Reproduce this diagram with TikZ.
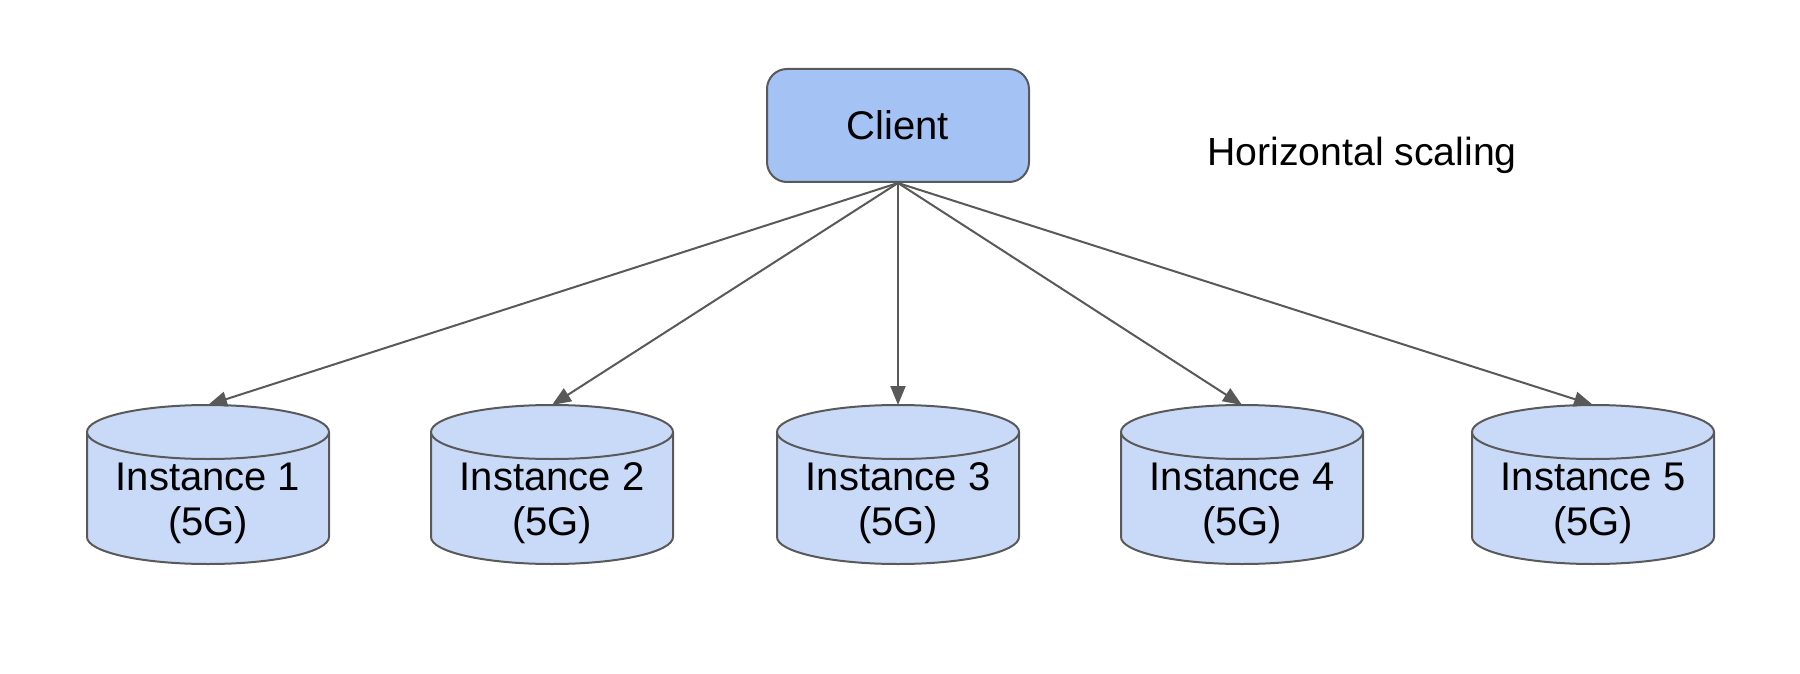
\documentclass[tikz,border=0pt]{standalone}
\usepackage{fontspec}
\setmainfont{Liberation Sans}
\usetikzlibrary{arrows.meta}
\definecolor{clientfill}{HTML}{A4C2F4}
\definecolor{cylfill}{HTML}{C9DAF8}
\definecolor{edgegray}{HTML}{595959}
\tikzset{
  clientbox/.style={draw=edgegray, line width=1pt, fill=clientfill, rounded corners=10pt,
    minimum width=131pt, minimum height=56.5pt, inner sep=0pt, font=\fontsize{20}{24}\selectfont},
  cylbody/.style={draw=edgegray, line width=1pt, fill=cylfill},
  cyltext/.style={align=center, inner sep=0pt, font=\fontsize{20}{22.5}\selectfont},
  link/.style={draw=edgegray, line width=1pt, -{Triangle[length=9.5pt,width=7.5pt]}},
  plainlabel/.style={inner sep=0pt, font=\fontsize{19.6}{24}\selectfont}
}
\newcommand{\mycyl}[3]{%
  \fill[cylfill] (#1-121,432) -- (#1-121,537) arc[start angle=180,end angle=360,x radius=60.5pt,y radius=13.5pt]
     -- (#1+121,432) arc[start angle=0,end angle=180,x radius=60.5pt,y radius=13.5pt] -- cycle;
  \draw[draw=edgegray, line width=1pt] (#1-121,432) -- (#1-121,537) arc[start angle=180,end angle=360,x radius=60.5pt,y radius=13.5pt]
     -- (#1+121,432);
  \draw[cylbody] (#1,432) ellipse[x radius=60.5pt,y radius=13.5pt];
  \coordinate (top#2) at (#1,405);
  \node[cyltext] (inst#2) at (#1,503) {Instance #3\\(5G)};
}
\begin{document}
\begin{tikzpicture}[x=0.5pt,y=-0.5pt]
\useasboundingbox (0,0) rectangle (1800,674);
\node[clientbox] (client) at (898,125.5) {Client};
\node[plainlabel, anchor=base west] (title) at (1207,166) {Horizontal scaling};
\mycyl{208}{a}{1}
\mycyl{552}{b}{2}
\mycyl{898}{c}{3}
\mycyl{1242}{d}{4}
\mycyl{1593}{e}{5}
\draw[link] (client.south) -- (topa);
\draw[link] (client.south) -- (topb);
\draw[link] (client.south) -- (topc);
\draw[link] (client.south) -- (topd);
\draw[link] (client.south) -- (tope);
\end{tikzpicture}
\end{document}
